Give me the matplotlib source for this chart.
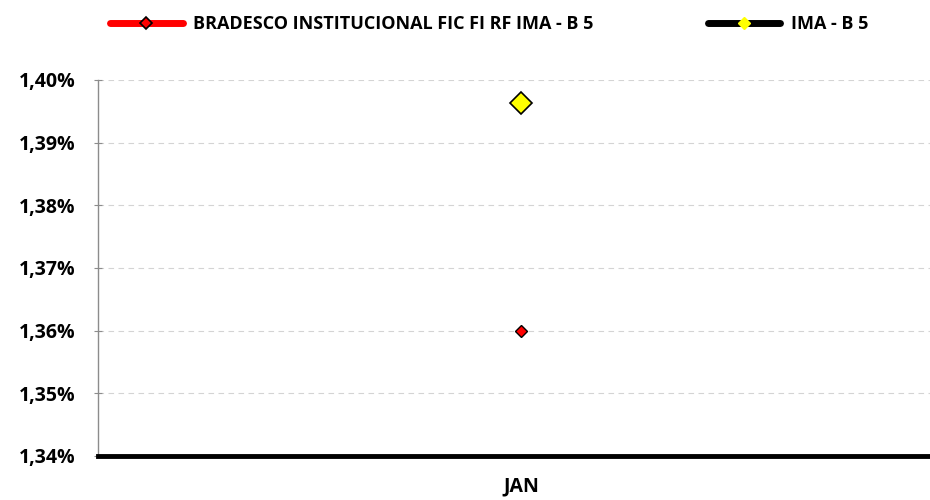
import matplotlib
matplotlib.use("Agg")
import matplotlib.pyplot as plt
from matplotlib.ticker import FuncFormatter, MultipleLocator
from matplotlib.lines import Line2D

categories = ["JAN"]
fund_name = "BRADESCO INSTITUCIONAL FIC FI RF IMA - B 5"
bench_name = "IMA - B 5"
fund_values = [1.36]
bench_values = [1.3963]

plt.rcParams['font.family'] = ['Open Sans', 'DejaVu Sans']
plt.rcParams['font.weight'] = 'bold'

fig = plt.figure(figsize=(9.3, 5.0), dpi=100)
W, H = 930, 500
ax = fig.add_axes([98 / W, (500 - 456) / H, (944 - 98) / W, (456 - 80) / H])

x = list(range(len(categories)))
ax.plot(x, fund_values, color='red', lw=3.5, marker='D', markersize=6,
        markerfacecolor='red', markeredgecolor='black', markeredgewidth=1, zorder=5)
ax.plot(x, bench_values, color='black', lw=3.5, marker='D', markersize=11,
        markerfacecolor='yellow', markeredgecolor='black', markeredgewidth=1.2, zorder=5)

ax.set_xlim(-0.5, 0.5)
ax.set_ylim(1.34, 1.40)
ax.yaxis.set_major_locator(MultipleLocator(0.01))
ax.yaxis.set_major_formatter(FuncFormatter(lambda v, p: f"{v:.2f}%".replace('.', ',')))
ax.set_xticks(x)
ax.set_xticklabels(categories)

ax.grid(axis='y', color='#d4d4d4', linestyle=(0, (5, 4)), linewidth=0.8)
ax.set_axisbelow(True)
for s in ['top', 'right']:
    ax.spines[s].set_visible(False)
ax.spines['left'].set_color('#8c8c8c')
ax.spines['left'].set_linewidth(1)
ax.spines['bottom'].set_color('black')
ax.spines['bottom'].set_linewidth(3.5)
ax.tick_params(axis='y', direction='inout', length=6, color='#8c8c8c', labelsize=14, pad=13)
ax.tick_params(axis='x', length=0, labelsize=14, pad=15)
for lab in ax.get_yticklabels() + ax.get_xticklabels():
    lab.set_fontweight('bold')

h1 = Line2D([], [], color='red', lw=5, marker='D', markersize=6,
            markerfacecolor='red', markeredgecolor='black', markeredgewidth=1.2,
            solid_capstyle='round')
h2 = Line2D([], [], color='black', lw=5, marker='D', markersize=6,
            markerfacecolor='yellow', markeredgecolor='yellow', markeredgewidth=1,
            solid_capstyle='round')
leg = fig.legend([h1, h2], [fund_name, bench_name], ncol=2, loc='center',
                 bbox_to_anchor=(0.526, 0.952), frameon=False, handlelength=4,
                 handletextpad=0.6, columnspacing=6.3, prop={'weight': 'bold', 'size': 13})

fig.savefig("out.png", dpi=100)
